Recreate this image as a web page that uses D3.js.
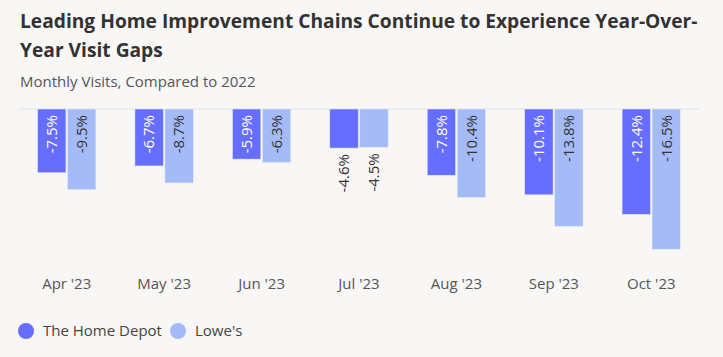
<!DOCTYPE html>
<html><head><meta charset="utf-8">
<script src="https://cdn.jsdelivr.net/npm/d3@7"></script>
<style>
html,body{margin:0;padding:0;background:#f8f7f6;}
svg{display:block;font-family:"Open Sans",sans-serif;}
</style></head>
<body>
<svg id="chart" width="723" height="357"></svg>
<script>
const months = ["Apr '23","May '23","Jun '23","Jul '23","Aug '23","Sep '23","Oct '23"];
const seriesNames = ["The Home Depot","Lowe's"];
const homeDepot = [-7.5,-6.7,-5.9,-4.6,-7.8,-10.1,-12.4];
const lowes = [-9.5,-8.7,-6.3,-4.5,-10.4,-13.8,-16.5];
const colors = ["#666eff","#a5bbf8"];
const labelColors = ["#ffffff","#333333"];

const svg = d3.select("#chart");
svg.append("rect").attr("width",723).attr("height",357).attr("fill","#f8f7f6");

svg.append("text").attr("x",20).attr("y",28).attr("fill","#333").attr("font-size",19.2).attr("font-weight",700)
  .text("Leading Home Improvement Chains Continue to Experience Year-Over-");
svg.append("text").attr("x",20).attr("y",57).attr("fill","#333").attr("font-size",19.2).attr("font-weight",700)
  .text("Year Visit Gaps");
svg.append("text").attr("x",20).attr("y",87).attr("fill","#555").attr("font-size",15)
  .text("Monthly Visits, Compared to 2022");

const x0 = d3.scaleBand().domain(months).range([18,700]).paddingInner(0.4).paddingOuter(0.2);
const x1 = d3.scaleBand().domain(seriesNames).range([0,x0.bandwidth()]).paddingInner(0.05);
const y = d3.scaleLinear().domain([0,-18]).range([109,262]);

svg.append("line").attr("x1",18).attr("x2",700).attr("y1",y(0)).attr("y2",y(0))
  .attr("stroke","#e2e2e2").attr("stroke-width",1);

const data = months.map((m,i)=>({m, vals:[homeDepot[i],lowes[i]]}));
const g = svg.append("g").selectAll("g").data(data).join("g")
  .attr("transform",d=>`translate(${x0(d.m)},0)`);

g.selectAll("rect").data(d=>d.vals.map((v,j)=>({v,j}))).join("rect")
  .attr("x",d=>x1(seriesNames[d.j])).attr("width",x1.bandwidth())
  .attr("y",y(0)).attr("height",d=>y(d.v)-y(0))
  .attr("fill",d=>colors[d.j]).attr("stroke","#e8ebff").attr("stroke-width",0.6);

g.selectAll("text").data(d=>d.vals.map((v,j)=>({v,j}))).join("text")
  .attr("transform",d=>{
    const cx = x1(seriesNames[d.j])+x1.bandwidth()/2;
    const inside = (y(d.v)-y(0))>50;
    const ty = inside ? y(0)+6 : y(d.v)+6;
    return `translate(${cx},${ty}) rotate(-90)`;
  })
  .attr("text-anchor","end").attr("dy","0.35em").attr("font-size",15)
  .attr("fill",d=>((y(d.v)-y(0))>50)?labelColors[d.j]:"#333")
  .text(d=>d.v.toFixed(1)+"%");

svg.append("g").selectAll("text").data(months).join("text")
  .attr("x",d=>x0(d)+x0.bandwidth()/2).attr("y",289)
  .attr("text-anchor","middle").attr("font-size",15).attr("fill","#555")
  .text(d=>d);

const leg = svg.append("g");
const legX = [26,178];
seriesNames.forEach((s,i)=>{
  leg.append("circle").attr("cx",legX[i]).attr("cy",331).attr("r",8).attr("fill",colors[i]);
  leg.append("text").attr("x",legX[i]+17).attr("y",336).attr("font-size",15).attr("fill","#444").text(s);
});
</script>
</body></html>
